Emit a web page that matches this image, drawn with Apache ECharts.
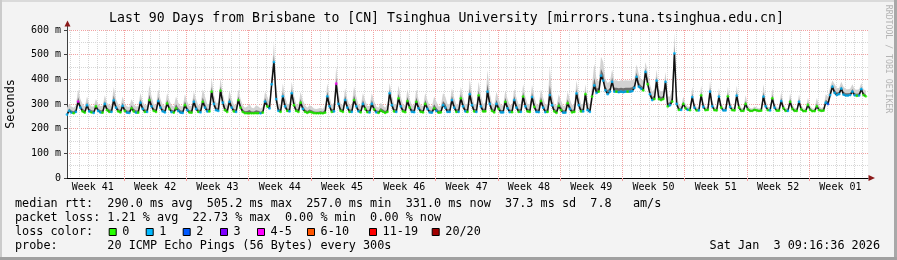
<!DOCTYPE html>
<html><head><meta charset="utf-8">
<script src="https://cdn.jsdelivr.net/npm/echarts@6/dist/echarts.min.js"></script>
<style>html,body{margin:0;padding:0;background:#f3f3f3;overflow:hidden}#c{width:897px;height:260px}</style>
</head><body><div id="c"></div>
<script>
// ---------------- data ----------------
const chartTitle = 'Last 90 Days from Brisbane to [CN] Tsinghua University [mirrors.tuna.tsinghua.edu.cn]';
const yAxisName = 'Seconds';
const weekLabels = ['Week 41','Week 42','Week 43','Week 44','Week 45','Week 46','Week 47','Week 48','Week 49','Week 50','Week 51','Week 52','Week 01'];
const yTickValues = [0,100,200,300,400,500,600];
const sampleStepDays = 0.25;      // 4 samples per day
const spanDays = 90;
const firstWeekStartDay = 6.4;    // Monday 00:00 of Week 42 (days from left edge)

// median rtt (ms), 4 samples per day
const medianRtt = [
 257,272,265,263, 268,310,285,270, 265,295,270,266, 264,290,272,266, 265,300,275,268,
 268,315,285,270, 266,292,272,265, 264,282,270,265, 265,305,280,268, 268,316,290,272,
 268,312,285,270, 266,302,280,267, 265,282,272,265, 264,295,275,266, 265,309,280,268,
 266,309,285,270, 270,350,300,275, 272,354,305,275, 268,309,285,270, 268,316,285,268,
 263,262,262,262, 262,263,263,262, 265,310,290,282, 380,470,320,272, 268,331,290,272,
 270,344,295,272, 268,305,280,268, 264,268,266,263, 262,262,263,262, 265,331,290,268,
 270,382,300,272, 268,316,285,268, 268,316,290,270, 266,300,280,267, 266,300,278,266,
 264,273,268,264, 268,344,295,270, 268,323,290,270, 267,312,285,268, 267,309,282,268,
 266,300,280,266, 265,282,272,265, 266,295,285,268, 268,316,285,268, 268,323,290,270,
 268,340,295,270, 268,335,290,270, 270,350,300,272, 266,300,280,266, 266,309,282,267,
 267,316,285,268, 268,330,290,270, 268,328,288,268, 267,312,285,267, 268,336,295,270,
 264,292,275,265, 265,303,280,266, 268,343,295,270, 270,340,275,268, 330,375,345,350,
 415,395,355,340, 350,390,350,350, 348,350,348,350, 350,350,352,365, 410,370,362,355,
 430,380,340,316, 320,395,320,316, 320,390,290,295, 310,505,300,276, 276,300,282,276,
 275,328,285,274, 274,335,288,275, 276,350,290,275, 274,330,285,274, 274,331,288,275,
 274,334,285,272, 272,300,278,272, 272,276,274,272, 273,330,290,275, 274,323,285,273,
 273,312,282,272, 272,309,280,272, 272,309,278,271, 271,296,276,271, 271,290,275,272,
 273,305,300,336, 370,345,336,340, 362,338,334,334, 336,350,335,333, 334,360,336,331
];

// top of the ping "smoke" (ms), same samples
const smokeTop = [
 285,300,290,285, 295,360,320,300, 290,330,300,290, 290,320,300,292, 292,335,305,295,
 295,370,320,300, 290,330,300,290, 288,320,300,290, 292,345,310,295, 295,377,330,300,
 295,360,320,298, 292,345,315,295, 290,330,305,292, 290,340,310,292, 292,350,320,295,
 295,360,330,300, 300,405,340,305, 305,405,345,305, 295,355,320,298, 295,360,320,295,
 285,290,300,285, 283,295,290,282, 290,350,330,305, 430,548,380,300, 295,383,330,300,
 300,390,335,300, 295,350,315,295, 285,295,290,282, 280,282,285,280, 295,383,330,295,
 305,452,350,300, 295,365,320,295, 295,372,330,298, 292,345,315,292, 292,345,312,290,
 285,305,295,285, 300,385,335,300, 298,375,330,298, 295,360,320,295, 295,360,318,295,
 292,345,315,292, 290,330,310,290, 292,345,330,300, 298,365,325,298, 298,370,330,300,
 300,400,340,300, 300,390,335,300, 305,438,345,305, 295,350,320,295, 295,355,320,296,
 296,362,325,298, 300,380,330,300, 300,378,330,298, 296,360,325,296, 300,451,340,300,
 292,340,315,292, 294,350,320,295, 300,395,340,300, 300,380,310,295, 380,463,400,390,
 492,470,400,385, 392,440,395,396, 392,396,394,396, 395,395,396,400, 460,420,400,395,
 470,430,380,350, 360,440,360,350, 355,430,330,330, 360,591,340,300, 290,330,300,290,
 288,370,305,286, 286,375,310,288, 290,395,315,288, 286,365,305,286, 286,370,310,288,
 286,375,305,285, 284,335,295,284, 282,290,286,282, 286,380,315,288, 288,365,305,286,
 286,350,300,284, 284,345,298,284, 284,340,295,282, 282,325,292,282, 282,325,292,284,
 288,340,330,370, 395,380,365,365, 390,370,360,360, 362,380,360,358, 360,385,360,355
];

// lost pings (of 20) per sample, one digit per sample (4 = "4-5" class)
const lossPerSample = [
 '1110','1410','0110','1011','0100', '1110','0101','1001','0110','1010',
 '0111','1001','0011','1010','0110', '1011','0011','1010','0110','1000',
 '0000','0001','0101','1111','0110', '1100','0010','0000','0000','0110',
 '1410','0110','1011','0100','1101', '0000','0110','1010','0001','1010',
 '0011','1010','0111','1110','1011', '0110','1010','0110','0101','1011',
 '0110','1010','0101','1011','0110', '0001','1010','0110','1011','0110',
 '1111','1110','1111','0111','1110', '1011','0100','0101','0110','1001',
 '0110','1010','0110','0101','1010', '0100','0000','0000','0110','1010',
 '0100','1000','0100','0000','0000', '0121','1111','1111','1110','1100'
].join('');

const lossClasses = [
 {label:'0',     color:'#26ff00'},
 {label:'1',     color:'#00b8ff'},
 {label:'2',     color:'#0059ff'},
 {label:'3',     color:'#7e00ff'},
 {label:'4-5',   color:'#ff00ff'},
 {label:'6-10',  color:'#ff5500'},
 {label:'11-19', color:'#ff0000'},
 {label:'20/20', color:'#a10000'}
];
const statLines = [
 'median rtt:  290.0 ms avg  505.2 ms max  257.0 ms min  331.0 ms now  37.3 ms sd  7.8   am/s',
 'packet loss: 1.21 % avg  22.73 % max  0.00 % min  0.00 % now',
 'loss color:',
 'probe:       20 ICMP Echo Pings (56 Bytes) every 300s'
];
const stampText = 'Sat Jan  3 09:16:36 2026';
const watermark = 'RRDTOOL / TOBI OETIKER';

// ---------------- layout ----------------
const MONO = '"DejaVu Sans Mono", monospace';
const G = {left:67, top:30, width:801, height:148};
const slotsPerDay = 10;
const nSlots = spanDays * slotsPerDay + 1;
const slotCats = Array.from({length:nSlots}, (_, i) => String(i));
const weekStartSlot = Math.round(firstWeekStartDay * slotsPerDay);      // 64
const weekSlots = 7 * slotsPerDay;                                       // 70
const firstLabelSlot = weekStartSlot - weekSlots / 2;                    // 29
const dayOffsetSlot = weekStartSlot % slotsPerDay;                       // 4
const isWeek = i => i >= weekStartSlot && (i - weekStartSlot) % weekSlots === 0;
const isDay = i => (i - dayOffsetSlot) % slotsPerDay === 0 && i >= dayOffsetSlot;
const isLabel = i => i >= firstLabelSlot && (i - firstLabelSlot) % weekSlots === 0;
const legendBoxX = [108.7,145.7,182.7,220,257,307,369,431.7];
const lineY = [204, 218, 232, 246];
const innerSmokeShare = 0.35;   // darker part of the smoke, share of its height

function lossColor(n){
  if (n <= 0) return lossClasses[0].color;
  if (n === 1) return lossClasses[1].color;
  if (n === 2) return lossClasses[2].color;
  if (n === 3) return lossClasses[3].color;
  if (n <= 5) return lossClasses[4].color;
  if (n <= 10) return lossClasses[5].color;
  if (n <= 19) return lossClasses[6].color;
  return lossClasses[7].color;
}

const medPts = medianRtt.map((v, i) => [i * sampleStepDays, v]);
const dotPts = medianRtt.map((v, i) => [i * sampleStepDays, v, +lossPerSample[i]]);
const smokeRows = medianRtt.map((v, i) => [i * sampleStepDays, v, smokeTop[i]]);

function smokeRender(params, api){
  if (params.dataIndex !== 0) return null;
  const lower = [], upper = [], mid = [];
  for (let i = 0; i < smokeRows.length; i++){
    const [t, m, h] = smokeRows[i];
    lower.push(api.coord([t, m]));
    upper.push(api.coord([t, h]));
    mid.push(api.coord([t, m + (h - m) * innerSmokeShare]));
  }
  const outer = upper.concat(lower.slice().reverse());
  const inner = mid.concat(lower.slice().reverse());
  return {type:'group', children:[
    {type:'polygon', shape:{points:outer}, style:{fill:'#d2d2d2'}},
    {type:'polygon', shape:{points:inner}, style:{fill:'#6e6e6e'}}
  ]};
}

const graphics = [];
graphics.push({type:'rect', shape:{x:0,y:0,width:897,height:2}, style:{fill:'#dadada'}, silent:true});
graphics.push({type:'rect', shape:{x:0,y:0,width:2,height:260}, style:{fill:'#cbcbcb'}, silent:true});
graphics.push({type:'rect', shape:{x:894,y:0,width:3,height:260}, style:{fill:'#a8a8a8'}, silent:true});
graphics.push({type:'rect', shape:{x:0,y:257,width:897,height:3}, style:{fill:'#a0a0a0'}, silent:true});
graphics.push({type:'text', x:446.5, y:19, style:{text:chartTitle, font:'13.2px '+MONO, fill:'#000', align:'center', verticalAlign:'middle'}});
graphics.push({type:'text', x:11, y:104, rotation:Math.PI/2, style:{text:yAxisName, font:'11.8px '+MONO, fill:'#000', align:'center', verticalAlign:'middle'}});
graphics.push({type:'text', x:888, y:59, rotation:-Math.PI/2, style:{text:watermark, font:'8.2px '+MONO, fill:'#b4b4b4', align:'center', verticalAlign:'middle'}});
graphics.push({type:'line', shape:{x1:67.5,y1:G.top,x2:67.5,y2:25}, style:{stroke:'#404040', lineWidth:1}});
graphics.push({type:'polygon', shape:{points:[[64.5,26.5],[70.5,26.5],[67.5,20.5]]}, style:{fill:'#8b1a1a'}});
graphics.push({type:'polygon', shape:{points:[[868.5,175],[868.5,181],[875,178]]}, style:{fill:'#8b1a1a'}});
statLines.forEach((t, i) => graphics.push({type:'text', x:15, y:lineY[i], style:{text:t, font:'11.8px '+MONO, fill:'#000', verticalAlign:'middle'}}));
graphics.push({type:'text', x:880, y:lineY[3], style:{text:stampText, font:'11.8px '+MONO, fill:'#000', align:'right', verticalAlign:'middle'}});
lossClasses.forEach((c, i) => {
  graphics.push({type:'rect', shape:{x:legendBoxX[i]+0.5, y:228.5, width:7, height:7}, style:{fill:c.color, stroke:'#000', lineWidth:1}});
  graphics.push({type:'text', x:legendBoxX[i]+13.6, y:lineY[2], style:{text:c.label, font:'11.8px '+MONO, fill:'#000', verticalAlign:'middle'}});
});

const chart = echarts.init(document.getElementById('c'), null, {renderer:'canvas'});
chart.setOption({
  animation:false,
  backgroundColor:'#f3f3f3',
  grid:{left:G.left, top:G.top, width:G.width, height:G.height, show:true, backgroundColor:'#ffffff', borderWidth:0, containLabel:false},
  xAxis:[
    {type:'value', min:0, max:spanDays, position:'bottom',
     axisLine:{show:true, onZero:false, lineStyle:{color:'#000', width:1}},
     axisTick:{show:false}, axisLabel:{show:false}, splitLine:{show:false}},
    {type:'category', data:slotCats, boundaryGap:false, position:'bottom',
     axisLine:{show:false}, axisTick:{show:false}, axisLabel:{show:false},
     splitLine:{show:true, interval:(i) => isDay(i) && !isWeek(i), lineStyle:{color:'#d6d6d6', type:[1,1], width:1}}},
    {type:'category', data:slotCats, boundaryGap:false, position:'bottom',
     axisLine:{show:false},
     axisTick:{show:true, interval:(i) => isWeek(i), length:3, lineStyle:{color:'#f0a0a0'}},
     axisLabel:{show:true, interval:(i) => isLabel(i), margin:4, color:'#000', fontFamily:'DejaVu Sans Mono', fontSize:10,
       formatter:(v, i) => weekLabels[(i - firstLabelSlot) / weekSlots] || ''},
     splitLine:{show:true, interval:(i) => isWeek(i), lineStyle:{color:'#f2a2a2', type:[1,1], width:1}}}
  ],
  yAxis:{type:'value', min:yTickValues[0], max:yTickValues[yTickValues.length-1], interval:100,
    axisLine:{show:true, lineStyle:{color:'#404040'}},
    axisTick:{show:true, length:3, lineStyle:{color:'#404040'}},
    axisLabel:{margin:6, color:'#000', fontFamily:'DejaVu Sans Mono', fontSize:10, formatter:v => v === 0 ? '0' : v + ' m'},
    splitLine:{show:true, lineStyle:{color:'#f2a2a2', type:[1,1], width:1}},
    minorTick:{show:false, splitNumber:2},
    minorSplitLine:{show:true, lineStyle:{color:'#d6d6d6', type:[1,1], width:1}}},
  series:[
    {name:'smoke', type:'custom', xAxisIndex:0, data:smokeRows, encode:{x:0, y:[1,2]}, renderItem:smokeRender, silent:true, z:2, clip:true},
    {name:'median', type:'line', xAxisIndex:0, data:medPts, symbol:'none', lineStyle:{color:'#111', width:1.5}, silent:true, z:3},
    {name:'loss', type:'scatter', xAxisIndex:0, data:dotPts, symbol:'circle', symbolSize:2.8, silent:true, z:4,
     itemStyle:{color:p => lossColor(p.data[2])}}
  ],
  graphic:{elements:graphics}
});
</script>
</body></html>
